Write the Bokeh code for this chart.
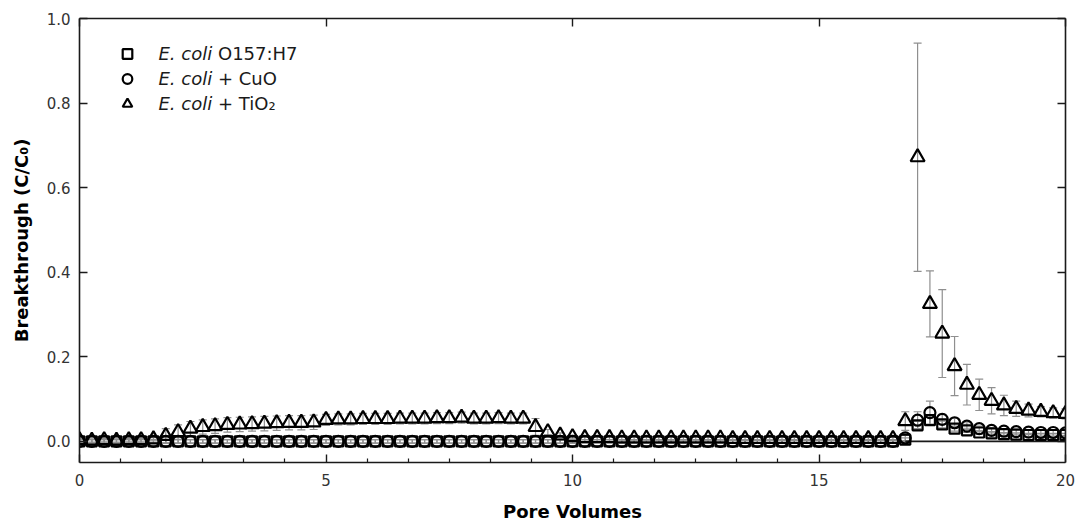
from bokeh.plotting import figure
from bokeh.models import (ColumnDataSource, Whisker, TeeHead, Range1d, FixedTicker,
                          LinearAxis, Label, Legend, LegendItem, PrintfTickFormatter,
                          CustomLabelingPolicy)
from bokeh.embed import file_html
from bokeh.resources import INLINE

# Pore volumes at which effluent samples were taken
pore_volumes = [
    0.00, 0.25, 0.50, 0.75, 1.00, 1.25, 1.50, 1.75, 2.00, 2.25,
    2.50, 2.75, 3.00, 3.25, 3.50, 3.75, 4.00, 4.25, 4.50, 4.75,
    5.00, 5.25, 5.50, 5.75, 6.00, 6.25, 6.50, 6.75, 7.00, 7.25,
    7.50, 7.75, 8.00, 8.25, 8.50, 8.75, 9.00, 9.25, 9.50, 9.75,
    10.00, 10.25, 10.50, 10.75, 11.00, 11.25, 11.50, 11.75, 12.00, 12.25,
    12.50, 12.75, 13.00, 13.25, 13.50, 13.75, 14.00, 14.25, 14.50, 14.75,
    15.00, 15.25, 15.50, 15.75, 16.00, 16.25, 16.50, 16.75, 17.00, 17.25,
    17.50, 17.75, 18.00, 18.25, 18.50, 18.75, 19.00, 19.25, 19.50, 19.75,
    20.00,
]

# E. coli O157:H7 alone (C/C0)
ecoli = [
    0.000, 0.000, 0.000, 0.000, 0.000, 0.000, 0.000, 0.000, 0.000, 0.000,
    0.000, 0.000, 0.000, 0.000, 0.000, 0.000, 0.000, 0.000, 0.000, 0.000,
    0.000, 0.000, 0.000, 0.000, 0.000, 0.000, 0.000, 0.000, 0.000, 0.000,
    0.000, 0.000, 0.000, 0.000, 0.000, 0.000, 0.000, 0.000, 0.000, 0.000,
    0.000, 0.000, 0.000, 0.000, 0.000, 0.000, 0.000, 0.000, 0.000, 0.000,
    0.000, 0.000, 0.000, 0.000, 0.000, 0.000, 0.000, 0.000, 0.000, 0.000,
    0.000, 0.000, 0.000, 0.000, 0.000, 0.000, 0.000, 0.004, 0.038, 0.050,
    0.040, 0.030, 0.026, 0.021, 0.019, 0.017, 0.016, 0.015, 0.015, 0.015,
    0.015,
]
ecoli_err = [
    0.004, 0.004, 0.004, 0.004, 0.004, 0.004, 0.004, 0.004, 0.004, 0.004,
    0.004, 0.004, 0.004, 0.004, 0.004, 0.004, 0.004, 0.004, 0.004, 0.004,
    0.004, 0.004, 0.004, 0.004, 0.004, 0.004, 0.004, 0.004, 0.004, 0.004,
    0.004, 0.004, 0.004, 0.004, 0.004, 0.004, 0.004, 0.004, 0.004, 0.004,
    0.004, 0.004, 0.004, 0.004, 0.004, 0.004, 0.004, 0.004, 0.004, 0.004,
    0.004, 0.004, 0.004, 0.004, 0.004, 0.004, 0.004, 0.004, 0.004, 0.004,
    0.004, 0.004, 0.004, 0.004, 0.004, 0.004, 0.004, 0.004, 0.010, 0.012,
    0.008, 0.006, 0.005, 0.004, 0.004, 0.004, 0.004, 0.004, 0.004, 0.004,
    0.004,
]

# E. coli + CuO nanoparticles (C/C0)
cuo = [
    0.000, 0.000, 0.000, 0.000, 0.000, 0.000, 0.000, 0.000, 0.000, 0.000,
    0.000, 0.000, 0.000, 0.000, 0.000, 0.000, 0.000, 0.000, 0.000, 0.000,
    0.000, 0.000, 0.000, 0.000, 0.000, 0.000, 0.000, 0.000, 0.000, 0.000,
    0.000, 0.000, 0.000, 0.000, 0.000, 0.000, 0.000, 0.000, 0.000, 0.000,
    0.000, 0.000, 0.000, 0.000, 0.000, 0.000, 0.000, 0.000, 0.000, 0.000,
    0.000, 0.000, 0.000, 0.000, 0.000, 0.000, 0.000, 0.000, 0.000, 0.000,
    0.000, 0.000, 0.000, 0.000, 0.000, 0.000, 0.000, 0.008, 0.050, 0.068,
    0.052, 0.044, 0.036, 0.030, 0.026, 0.024, 0.023, 0.022, 0.021, 0.021,
    0.020,
]
cuo_err = [
    0.004, 0.004, 0.004, 0.004, 0.004, 0.004, 0.004, 0.004, 0.004, 0.004,
    0.004, 0.004, 0.004, 0.004, 0.004, 0.004, 0.004, 0.004, 0.004, 0.004,
    0.004, 0.004, 0.004, 0.004, 0.004, 0.004, 0.004, 0.004, 0.004, 0.004,
    0.004, 0.004, 0.004, 0.004, 0.004, 0.004, 0.004, 0.004, 0.004, 0.004,
    0.004, 0.004, 0.004, 0.004, 0.004, 0.004, 0.004, 0.004, 0.004, 0.004,
    0.004, 0.004, 0.004, 0.004, 0.004, 0.004, 0.004, 0.004, 0.004, 0.004,
    0.004, 0.004, 0.004, 0.004, 0.004, 0.004, 0.004, 0.006, 0.020, 0.027,
    0.012, 0.010, 0.008, 0.006, 0.006, 0.006, 0.006, 0.006, 0.006, 0.006,
    0.006,
]

# E. coli + TiO2 nanoparticles (C/C0)
tio2 = [
    0.003, 0.002, 0.003, 0.002, 0.003, 0.003, 0.005, 0.013, 0.022, 0.030,
    0.034, 0.036, 0.039, 0.040, 0.041, 0.042, 0.043, 0.044, 0.044, 0.045,
    0.051, 0.052, 0.052, 0.053, 0.053, 0.053, 0.054, 0.054, 0.054, 0.055,
    0.055, 0.056, 0.054, 0.054, 0.055, 0.054, 0.054, 0.034, 0.022, 0.014,
    0.010, 0.008, 0.008, 0.008, 0.007, 0.007, 0.007, 0.007, 0.007, 0.007,
    0.007, 0.007, 0.007, 0.006, 0.006, 0.006, 0.006, 0.006, 0.006, 0.006,
    0.006, 0.006, 0.006, 0.006, 0.006, 0.006, 0.006, 0.048, 0.672, 0.325,
    0.255, 0.178, 0.134, 0.110, 0.096, 0.085, 0.077, 0.073, 0.070, 0.067,
    0.065,
]
tio2_err = [
    0.004, 0.004, 0.004, 0.004, 0.004, 0.004, 0.004, 0.017, 0.017, 0.017,
    0.017, 0.017, 0.017, 0.017, 0.017, 0.017, 0.017, 0.017, 0.017, 0.017,
    0.013, 0.013, 0.013, 0.013, 0.013, 0.013, 0.013, 0.013, 0.013, 0.013,
    0.013, 0.013, 0.013, 0.013, 0.013, 0.013, 0.013, 0.020, 0.006, 0.006,
    0.004, 0.004, 0.004, 0.004, 0.004, 0.004, 0.004, 0.004, 0.004, 0.004,
    0.004, 0.004, 0.004, 0.004, 0.004, 0.004, 0.004, 0.004, 0.004, 0.004,
    0.004, 0.004, 0.004, 0.004, 0.004, 0.004, 0.004, 0.022, 0.270, 0.078,
    0.104, 0.070, 0.048, 0.037, 0.031, 0.024, 0.018, 0.015, 0.012, 0.012,
    0.012,
]

# Zero reference line drawn under the elution tail
zero_line_x = [16.75, 20.0]
zero_line_y = [0.0, 0.0]

x_ticks = [0, 5, 10, 15, 20]
y_ticks = [0.0, 0.2, 0.4, 0.6, 0.8, 1.0]

FONT = "DejaVu Sans"
INK = "#1a1a1a"
ERR = "#8f8f8f"

p = figure(width=1077, height=525, x_range=Range1d(0, 20), y_range=Range1d(-0.05, 1.0),
           output_backend="svg", toolbar_location=None,
           min_border_left=79, min_border_right=12, min_border_top=18, min_border_bottom=63)
p.grid.visible = False
p.outline_line_color = None
p.background_fill_color = "white"
p.border_fill_color = "white"

# five minor subdivisions between the labelled pore-volume ticks
x_minor = [m + j * 5.0 / 6.0 for m in x_ticks[:-1] for j in range(1, 6)]

# mirror axes carry tick marks only
no_labels = CustomLabelingPolicy(code="for (const i of indices) { if (i < 0) { yield i } }")


def style_axis(ax, labelled):
    ax.axis_line_color = INK
    ax.axis_line_width = 1.6
    ax.major_tick_line_color = INK
    ax.major_tick_line_width = 1.4
    ax.minor_tick_line_color = INK
    ax.minor_tick_line_width = 1.2
    ax.major_tick_in = 8
    ax.major_tick_out = 0
    ax.minor_tick_in = 0
    ax.minor_tick_out = 0
    if labelled:
        ax.major_label_text_font = FONT
        ax.major_label_text_font_size = "15px"
        ax.major_label_text_color = "#333333"
    else:
        ax.major_label_policy = no_labels
        ax.major_label_text_font_size = "0px"
        ax.major_label_standoff = 0


xax = p.xaxis[0]
xax.ticker = FixedTicker(ticks=x_ticks, minor_ticks=x_minor)
style_axis(xax, True)
xax.minor_tick_in = 4
xax.major_label_standoff = 11
xax.axis_label = "Pore Volumes"
xax.axis_label_text_font = FONT
xax.axis_label_text_font_style = "bold"
xax.axis_label_text_font_size = "18px"
xax.axis_label_text_color = "black"
xax.axis_label_standoff = 12

yax = p.yaxis[0]
yax.ticker = FixedTicker(ticks=y_ticks)
yax.formatter = PrintfTickFormatter(format="%.1f")
style_axis(yax, True)
yax.major_label_standoff = 9
yax.axis_label = "Breakthrough (C/C\u2080)"
yax.axis_label_text_font = FONT
yax.axis_label_text_font_style = "bold"
yax.axis_label_text_font_size = "18px"
yax.axis_label_text_color = "black"
yax.axis_label_standoff = 12

top = LinearAxis(ticker=FixedTicker(ticks=x_ticks))
style_axis(top, False)
p.add_layout(top, "above")

right = LinearAxis(ticker=FixedTicker(ticks=y_ticks))
style_axis(right, False)
p.add_layout(right, "right")

# zero reference line
p.line(zero_line_x, zero_line_y, line_color=INK, line_width=1.6)


def series(values, errors):
    return ColumnDataSource(dict(
        x=pore_volumes,
        y=values,
        upper=[v + e for v, e in zip(values, errors)],
        lower=[v - e for v, e in zip(values, errors)],
    ))


src_ecoli = series(ecoli, ecoli_err)
src_cuo = series(cuo, cuo_err)
src_tio2 = series(tio2, tio2_err)

for src in (src_ecoli, src_cuo, src_tio2):
    p.add_layout(Whisker(source=src, base="x", upper="upper", lower="lower",
                         line_color=ERR, line_width=1.2,
                         upper_head=TeeHead(size=8, line_color=ERR, line_width=1.2),
                         lower_head=TeeHead(size=8, line_color=ERR, line_width=1.2)))

r_sq = p.scatter("x", "y", source=src_ecoli, marker="square", size=10,
                 fill_color=None, line_color="black", line_width=2.2)
r_ci = p.scatter("x", "y", source=src_cuo, marker="circle", size=11,
                 fill_color=None, line_color="black", line_width=2.2)
r_tr = p.scatter("x", "y", source=src_tio2, marker="triangle", size=14,
                 fill_color=None, line_color="black", line_width=2.2)

legend = Legend(items=[LegendItem(label=" ", renderers=[r]) for r in (r_sq, r_ci, r_tr)],
                location=(36, 346), glyph_width=24, glyph_height=25, label_height=25,
                label_width=1, label_text_font_size="1px", spacing=0, padding=0, margin=0,
                border_line_color=None, background_fill_alpha=0)
p.add_layout(legend)

legend_rows = [("E. coli", "O157:H7"), ("E. coli", "+ CuO"), ("E. coli", "+ TiO\u2082")]
LEG_SIZE = 18
italic_width = 2.986 * LEG_SIZE  # advance of "E. coli" in DejaVu Sans Oblique
space_width = 0.318 * LEG_SIZE
for i, (ital, rest) in enumerate(legend_rows):
    ypos = 409 - 25 * i
    p.add_layout(Label(x=79, y=ypos, x_units="screen", y_units="screen", text=ital,
                       text_font=FONT, text_font_style="italic", text_font_size=f"{LEG_SIZE}px",
                       text_baseline="middle", text_color="#1a1a1a"))
    p.add_layout(Label(x=79 + italic_width + space_width, y=ypos, x_units="screen",
                       y_units="screen", text=rest,
                       text_font=FONT, text_font_size=f"{LEG_SIZE}px",
                       text_baseline="middle", text_color="#1a1a1a"))

open("out.html", "w").write(file_html(p, INLINE))
